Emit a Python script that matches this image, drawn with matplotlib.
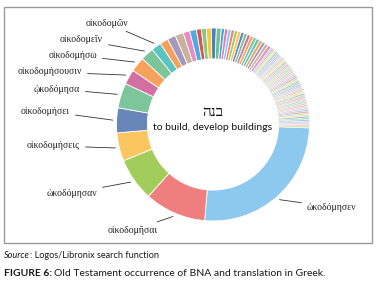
import numpy as np
import matplotlib
matplotlib.use("Agg")
import matplotlib.pyplot as plt
from matplotlib.patches import Rectangle

# Greek forms translating BNA, counted in the Old Testament
forms = ['ὠκοδόμησεν', 'οἰκοδομῆσαι', 'ὠκοδόμησαν', 'οἰκοδομήσεις', 'οἰκοδομήσει',
         'ᾠκοδόμησα', 'οἰκοδομήσουσιν', 'οἰκοδομήσω', 'οἰκοδομεῖν', 'οἰκοδομῶν']
form_counts = [93, 37, 26, 17, 15, 15, 9, 9, 8, 6]
# the many unlabelled small forms
other_counts = [5, 5, 5, 4, 4, 3, 3, 3, 3, 3] + [2] * 16 + [1] * 55

palette = ['#8DC9EE', '#EF7F7F', '#A3CD5A', '#FBC55F', '#6886B8', '#7DC59B',
           '#D46FA1', '#F6A25D', '#7CC49A', '#5CC4C0', '#F4A05A', '#A498BE',
           '#C8B39A', '#E58DC1', '#4FA8E0', '#D45B55', '#8DC77B', '#F2C94C',
           '#4E7DBF', '#72BF8E', '#4EA0D8', '#E07BB0']

hebrew_word = 'בנה'
gloss = 'to build, develop buildings'

W, H = 378, 282
CX, CY, R = 213, 124.5, 96.5  # donut centre / radius in pixels

# label anchors in pixels (x, y, alignment)
label_pos = [(307, 207, 'left'), (158, 230, 'right'), (97, 193, 'right'),
             (80, 146, 'right'), (70, 111, 'right'), (80, 89, 'right'),
             (82, 72, 'right'), (97, 55, 'right'), (103, 40, 'right'),
             (128, 23, 'right')]

counts = form_counts + other_counts
colors = [palette[i % len(palette)] for i in range(len(counts))]

fig = plt.figure(figsize=(W / 100, H / 100), dpi=100)
fig.patch.set_facecolor('white')

# chart frame
fig.patches.append(Rectangle((4 / W, 1 - 243 / H), 368 / W, 236 / H,
                             transform=fig.transFigure, fill=False,
                             edgecolor='#9a9a9a', linewidth=1.0))

half = 100
ax = fig.add_axes([(CX - half) / W, (H - CY - half) / H, 2 * half / W, 2 * half / H])
lim = half / R
ax.axis('off')

start = -2
wedges, _ = ax.pie(counts, colors=colors, startangle=start, counterclock=False, radius=1,
                   wedgeprops=dict(width=0.32, edgecolor='white', linewidth=0.6))
# single occurrences look washed out in the original
for w, c in zip(wedges, counts):
    if c == 1:
        w.set_alpha(0.6)
ax.set_xlim(-lim, lim)
ax.set_ylim(-lim, lim)

total = sum(counts)
cum = np.cumsum([0] + counts)
greek = ['Liberation Serif', 'DejaVu Serif']
for i, form in enumerate(forms):
    mid = np.radians(start - 360 * (cum[i] + counts[i] / 2) / total)
    px, py, ha = label_pos[i]
    ax.annotate(form, xy=(1.04 * np.cos(mid), 1.04 * np.sin(mid)),
                xytext=((px - CX) / R, (CY - py) / R), ha=ha, va='center',
                fontsize=7, family=greek, color='#222222', annotation_clip=False,
                arrowprops=dict(arrowstyle='-', color='#333333', lw=0.6,
                                shrinkA=2, shrinkB=0))

# centre text (matplotlib has no bidi, so reverse the Hebrew for display)
ax.text(0, (CY - 113) / R, hebrew_word[::-1], ha='center', va='center',
        fontsize=11, family=['Liberation Serif', 'DejaVu Sans'], color='#111111')
ax.text(0, (CY - 128) / R, gloss, ha='center', va='center',
        fontsize=7.5, family='Lato', color='#111111')

# source and caption below the frame
fig.canvas.draw()
rend = fig.canvas.get_renderer()
t1 = fig.text(4 / W, 1 - 256 / H, 'Source', style='italic', fontsize=6.6,
              family='Lato', va='center', color='#1a1a1a')
bb = t1.get_window_extent(rend)
fig.text(bb.x1 / W, 1 - 256 / H, ': Logos/Libronix search function', fontsize=6.6,
         family='Lato', va='center', color='#1a1a1a')
t2 = fig.text(4 / W, 1 - 273 / H, 'FIGURE 6:', weight='bold', fontsize=7.5,
              family='Lato', va='center', color='#1a1a1a')
bb = t2.get_window_extent(rend)
fig.text(bb.x1 / W + 2 / W, 1 - 273 / H,
         'Old Testament occurrence of BNA and translation in Greek.',
         fontsize=7.5, family='Lato', va='center', color='#1a1a1a')

fig.savefig('out.png', dpi=100)
